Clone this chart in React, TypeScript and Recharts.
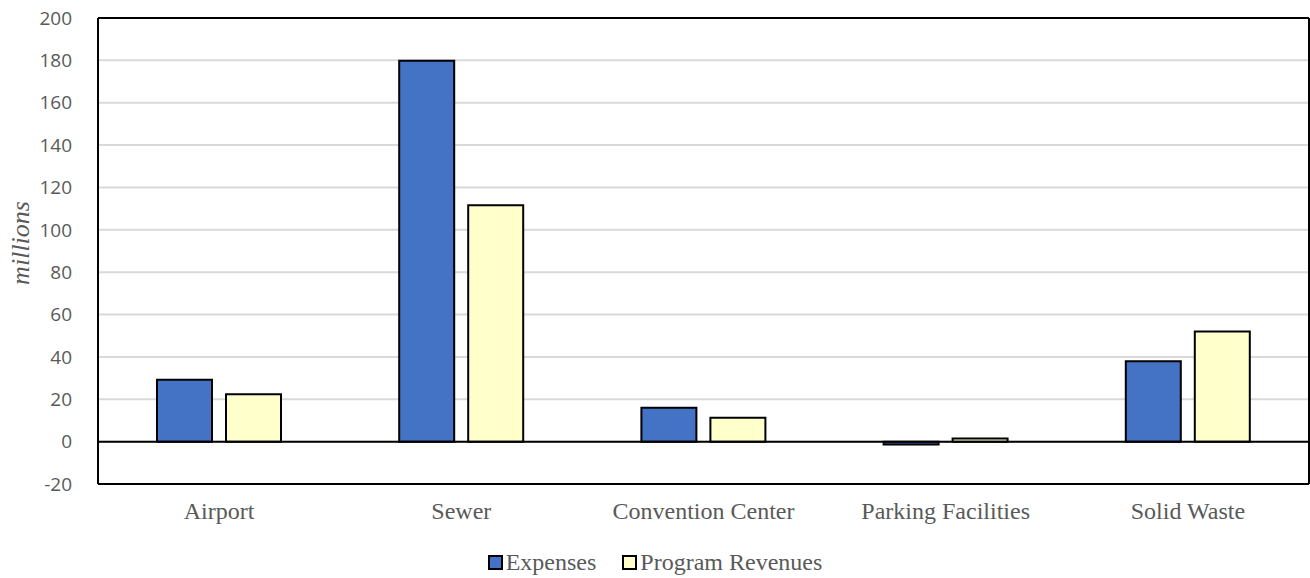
import { BarChart, Bar, XAxis, YAxis, CartesianGrid, ReferenceLine, Legend } from 'recharts'

const categories = ['Airport', 'Sewer', 'Convention Center', 'Parking Facilities', 'Solid Waste']
const expenses = [29.2, 179.8, 16, -1.3, 37.9]
const programRevenues = [22.4, 111.6, 11.3, 1.5, 52]
const yTicks = [-20, 0, 20, 40, 60, 80, 100, 120, 140, 160, 180, 200]

const data = categories.map((name, i) => ({
  name,
  expenses: expenses[i],
  revenues: programRevenues[i],
}))

const serif = '"Liberation Serif", "Times New Roman", serif'
const sans = '"Open Sans", "Noto Sans", sans-serif'

function LegendBox() {
  const items = [
    { label: 'Expenses', color: '#4472C4' },
    { label: 'Program Revenues', color: '#FFFFCC' },
  ]
  return (
    <div style={{ display: 'flex', justifyContent: 'center', gap: 26, fontFamily: serif, fontSize: 24, color: '#595959', lineHeight: '28px' }}>
      {items.map((it) => (
        <div key={it.label} style={{ display: 'flex', alignItems: 'center' }}>
          <span style={{ width: 11, height: 11, background: it.color, border: '2px solid #000', marginRight: 3, display: 'inline-block' }} />
          {it.label}
        </div>
      ))}
    </div>
  )
}

export default function App() {
  return (
    <div style={{ position: 'absolute', left: 0, top: 0 }}>
      <BarChart
        width={1310}
        height={578}
        data={data}
        margin={{ top: 18, right: 0, bottom: 2, left: 0 }}
        barGap={14}
        barCategoryGap={59}
      >
        <CartesianGrid vertical={false} stroke="#D9D9D9" strokeWidth={2} />
        <XAxis
          dataKey="name"
          tickLine={false}
          axisLine={{ stroke: '#000', strokeWidth: 2 }}
          height={64}
          tickMargin={12}
          tick={{ fontFamily: serif, fontSize: 24, fill: '#595959' }}
          interval={0}
        />
        <YAxis
          domain={[-20, 200]}
          ticks={yTicks}
          width={98}
          tickLine={false}
          axisLine={{ stroke: '#000', strokeWidth: 2 }}
          tickMargin={20}
          tick={{ fontFamily: sans, fontSize: 19, fill: '#595959' }}
          label={{
            value: 'millions',
            angle: -90,
            position: 'insideLeft',
            offset: 20,
            dy: -8,
            style: { fontFamily: serif, fontSize: 26, fontStyle: 'italic', fill: '#595959', textAnchor: 'middle' },
          }}
        />
        <YAxis yAxisId="right" orientation="right" width={1} tick={false} tickLine={false} axisLine={{ stroke: '#000', strokeWidth: 2 }} />
        <ReferenceLine y={200} stroke="#000" strokeWidth={2} />
        <ReferenceLine y={0} stroke="#000" strokeWidth={2} />
        <Bar dataKey="expenses" name="Expenses" fill="#4472C4" stroke="#000" strokeWidth={2} isAnimationActive={false} />
        <Bar dataKey="revenues" name="Program Revenues" fill="#FFFFCC" stroke="#000" strokeWidth={2} isAnimationActive={false} />
        <Legend verticalAlign="bottom" height={28} content={() => <LegendBox />} />
      </BarChart>
    </div>
  )
}
